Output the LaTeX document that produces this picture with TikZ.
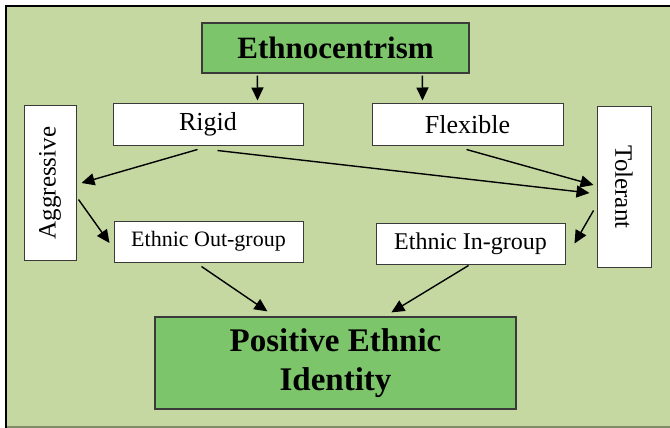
\documentclass[tikz,border=0pt]{standalone}
\usepackage{fontspec}
\setmainfont{Liberation Serif}
\usetikzlibrary{arrows.meta,calc}
\definecolor{bgreen}{HTML}{C5D8A1}
\definecolor{mgreen}{HTML}{7DC56A}
\definecolor{edge}{HTML}{3A3A3A}
\tikzset{
  box/.style={draw=edge,line width=1pt,fill=white,inner sep=0pt,anchor=center},
  gbox/.style={box,fill=mgreen,line width=1.2pt},
  arr/.style={line width=1.4pt,-{Triangle[length=13pt,width=12pt]}},
}
\begin{document}
\begin{tikzpicture}[x=1pt,y=-1pt]
\useasboundingbox (0,0) rectangle (670,428);
\fill[white] (0,0) rectangle (670,428);
\fill[bgreen] (7,7) rectangle (670,426);
\fill[black!35!bgreen] (7,426) rectangle (670,428);
\draw[line width=2.5pt] (6,428) -- (6,6) -- (670,6);

\node[gbox,minimum width=267pt,minimum height=50pt,font=\fontsize{31}{37}\selectfont\bfseries] (ethno) at (335.5,48)
  {Ethnocentrism};
\node[box,minimum width=190pt,minimum height=41pt,font=\fontsize{26}{30}\selectfont] (rigid) at (208,124.5)
  {Rigid};
\node[box,minimum width=191pt,minimum height=41pt,font=\fontsize{26}{30}\selectfont] (flex) at (467.5,124.5)
  {Flexible};
\node[box,minimum width=52pt,minimum height=154pt] (aggr) at (50,183) {};
\node[rotate=90,inner sep=0pt,font=\fontsize{25}{30}\selectfont] (aggrtext) at (aggr.center)
  {Aggressive};
\node[box,minimum width=54pt,minimum height=160pt] (tol) at (624,187) {};
\node[rotate=-90,inner sep=0pt,font=\fontsize{25}{30}\selectfont] (toltext) at (tol.center)
  {Tolerant};
\node[box,minimum width=189pt,minimum height=41pt,font=\fontsize{22}{26}\selectfont] (out) at (208.5,241.5)
  {Ethnic Out-group};
\node[box,minimum width=189pt,minimum height=41pt,font=\fontsize{24}{28}\selectfont] (in) at (470.5,243.5)
  {Ethnic In-group};
\node[gbox,minimum width=361pt,minimum height=92pt,align=center,font=\fontsize{33}{39}\selectfont\bfseries] (pei) at (335.5,363)
  {Positive Ethnic\\ Identity};

\draw[arr] ($(ethno.south west)+(56,2)$) -- ($(rigid.north west)+(145,-3)$);
\draw[arr] ($(ethno.south west)+(221,2)$) -- ($(flex.north west)+(51,-3)$);
\draw[arr] ($(rigid.south west)+(85,4)$) -- ($(aggr.east)+(5,0)$);
\draw[arr] ($(rigid.south west)+(105,5)$) -- ($(tol.west)+(-7,6)$);
\draw[arr] ($(flex.south west)+(95,4)$) -- ($(tol.west)+(-3,-2)$);
\draw[arr] ($(aggr.south east)+(2,-61)$) -- ($(out.west)+(-4,1.5)$);
\draw[arr] ($(tol.south west)+(-3,-57)$) -- ($(in.east)+(9,0)$);
\draw[arr] ($(out.south west)+(88,4)$) -- ($(pei.north west)+(113,-5)$);
\draw[arr] ($(in.south west)+(93,1)$) -- ($(pei.north west)+(237,-4)$);
\end{tikzpicture}
\end{document}
